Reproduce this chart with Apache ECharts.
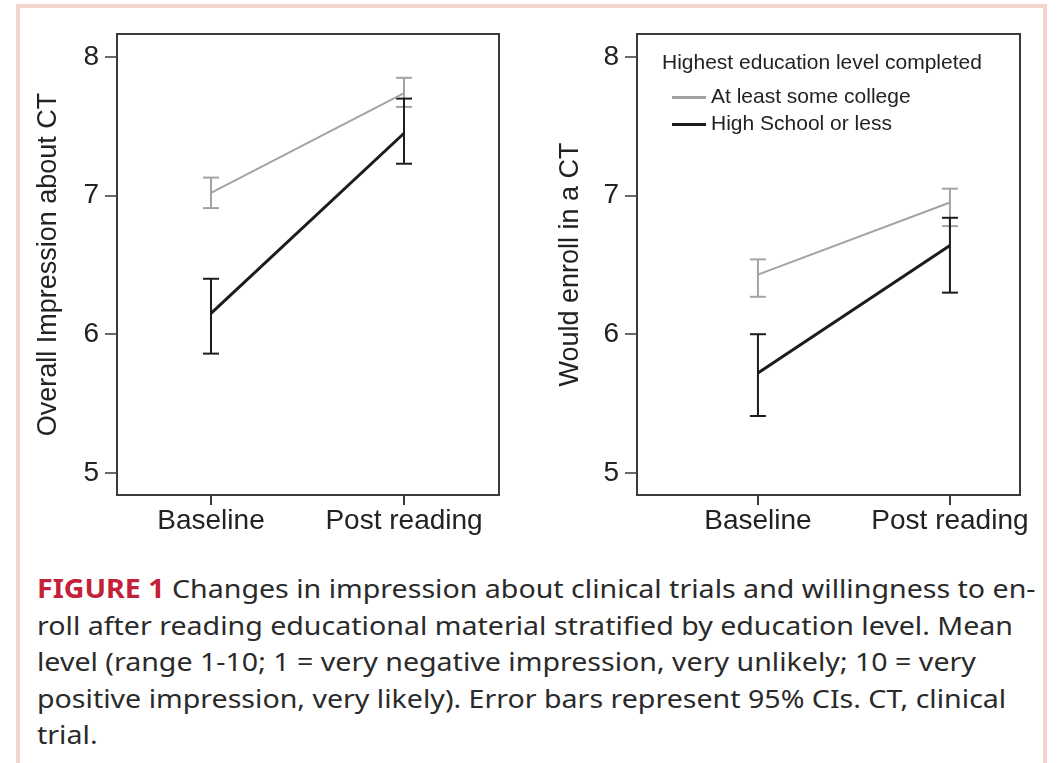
<!DOCTYPE html>
<html>
<head>
<meta charset="utf-8">
<script src="https://cdn.jsdelivr.net/npm/echarts@6/dist/echarts.min.js"></script>
<style>
  html, body { margin: 0; padding: 0; background: #fff; }
  #frame {
    position: absolute; left: 16px; top: 4px; width: 1023px; height: 800px;
    border: 4px solid #f3d5cb; border-bottom: none;
  }
  #chart { position: absolute; left: 0; top: 0; width: 1061px; height: 560px; }
  #caption {
    position: absolute; left: 37px; top: 570px;
    font-family: "Noto Sans", sans-serif; font-size: 26px; line-height: 36.5px;
    color: #2a2a2a; white-space: nowrap; transform-origin: 0 0;
  }
  #caption b { color: #c3203a; }
</style>
</head>
<body>
<div id="frame"></div>
<div id="chart"></div>
<div id="caption">
  <div><b>FIGURE 1</b> Changes in impression about clinical trials and willingness to en-</div>
  <div id="capRef">roll after reading educational material stratified by education level. Mean</div>
  <div>level (range 1-10; 1 = very negative impression, very unlikely; 10 = very</div>
  <div>positive impression, very likely). Error bars represent 95% CIs. CT, clinical</div>
  <div>trial.</div>
</div>
<script>
const categories = ["Baseline", "Post reading"];
const yTicks = [5, 6, 7, 8];
const groups = ["At least some college", "High School or less"];

// Overall impression about CT
const impCollege = [7.02, 7.74];
const impCollegeLow = [6.91, 7.64];
const impCollegeHigh = [7.13, 7.85];
const impSchool = [6.15, 7.45];
const impSchoolLow = [5.86, 7.23];
const impSchoolHigh = [6.40, 7.70];

// Would enroll in a CT
const enrCollege = [6.43, 6.95];
const enrCollegeLow = [6.27, 6.78];
const enrCollegeHigh = [6.54, 7.05];
const enrSchool = [5.72, 6.64];
const enrSchoolLow = [5.41, 6.30];
const enrSchoolHigh = [6.00, 6.84];

const GRAY = "#a3a3a3";
const DARK = "#1c1c1c";
const AXIS = "#3a3a3a";
const FONT = "Liberation Sans";

const chart = echarts.init(document.getElementById("chart"));

const toPoints = (vals) => vals.map((v, i) => [i, v]);
const toBars = (low, high) => low.map((v, i) => [i, v, high[i]]);

const errorBar = (color, width, cap) => (params, api) => {
  const x = api.value(0);
  const lo = api.coord([x, api.value(1)]);
  const hi = api.coord([x, api.value(2)]);
  const style = { stroke: color, lineWidth: width, fill: null };
  return {
    type: "group",
    children: [
      { type: "line", shape: { x1: lo[0], y1: lo[1], x2: hi[0], y2: hi[1] }, style },
      { type: "line", shape: { x1: lo[0] - cap, y1: lo[1], x2: lo[0] + cap, y2: lo[1] }, style },
      { type: "line", shape: { x1: hi[0] - cap, y1: hi[1], x2: hi[0] + cap, y2: hi[1] }, style },
    ],
  };
};

const xAxisFor = (gridIndex, min, max) => ({
  type: "value",
  gridIndex,
  min,
  max,
  splitLine: { show: false },
  axisLine: { show: true, onZero: false, lineStyle: { color: AXIS, width: 2 } },
  axisTick: { show: true, customValues: [0, 1], length: 10, lineStyle: { color: AXIS, width: 2 } },
  axisLabel: {
    customValues: [0, 1],
    formatter: (v) => categories[v],
    margin: 12,
    fontFamily: FONT,
    fontSize: 28,
    color: "#222",
  },
});

const yAxisFor = (gridIndex, name, nameGap) => ({
  type: "value",
  gridIndex,
  min: 4.84,
  max: 8.166,
  name,
  nameLocation: "middle",
  nameRotate: 90,
  nameGap,
  nameTextStyle: { fontFamily: FONT, fontSize: 27, color: "#222" },
  splitLine: { show: false },
  axisLine: { show: true, onZero: false, lineStyle: { color: AXIS, width: 2 } },
  axisTick: { show: true, customValues: yTicks, length: 12, lineStyle: { color: AXIS, width: 1.5 } },
  axisLabel: { customValues: yTicks, margin: 18, fontFamily: FONT, fontSize: 28, color: "#222" },
});

const lineSeries = (name, idx, vals, color, width) => ({
  name,
  type: "line",
  xAxisIndex: idx,
  yAxisIndex: idx,
  data: toPoints(vals),
  showSymbol: false,
  symbol: "none",
  lineStyle: { color, width },
  itemStyle: { color },
  animation: false,
});

const barSeries = (name, idx, low, high, color, width, cap) => ({
  name,
  type: "custom",
  xAxisIndex: idx,
  yAxisIndex: idx,
  data: toBars(low, high),
  encode: { x: 0, y: [1, 2] },
  renderItem: errorBar(color, width, cap),
  animation: false,
});

const option = {
  animation: false,
  grid: [
    { left: 117, top: 34, width: 382, height: 461, show: true, borderColor: AXIS, borderWidth: 2 },
    { left: 637, top: 34, width: 383, height: 461, show: true, borderColor: AXIS, borderWidth: 2 },
  ],
  xAxis: [xAxisFor(0, -0.487, 1.492), xAxisFor(1, -0.63, 1.365)],
  yAxis: [yAxisFor(0, "Overall Impression about CT", 55), yAxisFor(1, "Would enroll in a CT", 53)],
  legend: {
    left: 667,
    top: 82,
    orient: "vertical",
    itemWidth: 34,
    itemHeight: 3,
    itemGap: 6,
    icon: "rect",
    textStyle: { fontFamily: FONT, fontSize: 21, color: "#222" },
    data: groups,
  },
  graphic: [
    {
      type: "text",
      left: 662,
      top: 53,
      style: { text: "Highest education level completed", fontFamily: FONT, fontSize: 21, fill: "#222" },
    },
  ],
  series: [
    lineSeries(groups[0], 0, impCollege, GRAY, 2),
    barSeries(groups[0], 0, impCollegeLow, impCollegeHigh, GRAY, 2, 8),
    lineSeries(groups[1], 0, impSchool, DARK, 3),
    barSeries(groups[1], 0, impSchoolLow, impSchoolHigh, DARK, 2, 8),
    lineSeries(groups[0], 1, enrCollege, GRAY, 2),
    barSeries(groups[0], 1, enrCollegeLow, enrCollegeHigh, GRAY, 2, 8),
    lineSeries(groups[1], 1, enrSchool, DARK, 3),
    barSeries(groups[1], 1, enrSchoolLow, enrSchoolHigh, DARK, 2, 8),
  ],
};

chart.setOption(option);

// squeeze the caption so its lines end where the printed ones do
const cap = document.getElementById("caption");
const ref = document.getElementById("capRef");
const range = document.createRange();
range.selectNodeContents(ref);
const w = range.getBoundingClientRect().width;
cap.style.transform = "scaleX(" + (976 / w) + ")";
</script>
</body>
</html>
